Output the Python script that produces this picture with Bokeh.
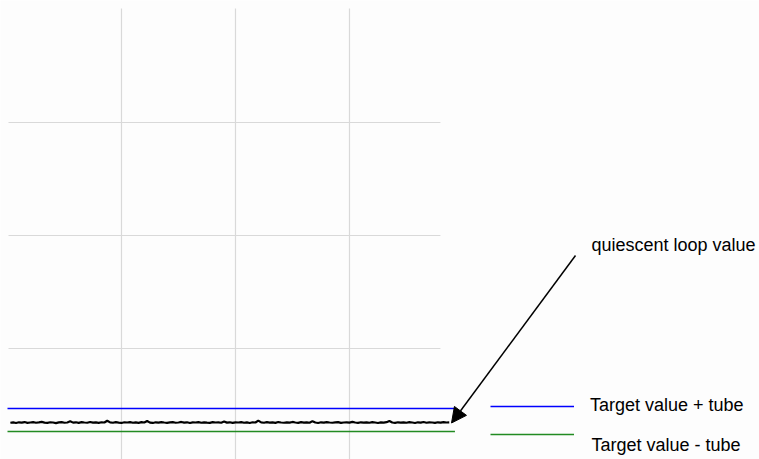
from bokeh.plotting import figure
from bokeh.models import Range1d, Arrow, NormalHead, Label, Legend, LegendItem
from bokeh.core.properties import value
from bokeh.embed import file_html
from bokeh.resources import INLINE

# ---- data -------------------------------------------------------------
loop_values = [
    0.343, 0.346, 0.341, 0.347, 0.344, 0.349, 0.342, 0.345, 0.348, 0.343,
    0.346, 0.351, 0.344, 0.342, 0.347, 0.345, 0.340, 0.346, 0.349, 0.343,
    0.345, 0.356, 0.344, 0.347, 0.342, 0.348, 0.345, 0.343, 0.350, 0.344,
    0.346, 0.342, 0.347, 0.345, 0.361, 0.346, 0.343, 0.348, 0.344, 0.341,
    0.347, 0.345, 0.349, 0.343, 0.346, 0.342, 0.348, 0.345, 0.358, 0.344,
    0.341, 0.347, 0.344, 0.349, 0.345, 0.342, 0.346, 0.348, 0.343, 0.345,
    0.350, 0.344, 0.347, 0.341, 0.346, 0.345, 0.349, 0.343, 0.347, 0.344,
    0.342, 0.348, 0.345, 0.346, 0.343, 0.354, 0.344, 0.347, 0.342, 0.346,
    0.345, 0.349, 0.343, 0.346, 0.341, 0.347, 0.345, 0.362, 0.346, 0.343,
    0.348, 0.344, 0.346, 0.342, 0.349, 0.345, 0.343, 0.347, 0.344, 0.350,
    0.345, 0.342, 0.348, 0.344, 0.346, 0.343, 0.357, 0.345, 0.341, 0.347,
    0.344, 0.349, 0.345, 0.343, 0.346, 0.348, 0.342, 0.345, 0.347, 0.344,
    0.351, 0.345, 0.342, 0.347, 0.344, 0.346, 0.343, 0.349, 0.345, 0.341,
    0.346, 0.344, 0.348, 0.359, 0.345, 0.342, 0.347, 0.344, 0.346, 0.343,
    0.348, 0.345, 0.341, 0.347, 0.344, 0.350, 0.343, 0.346, 0.345, 0.342,
    0.347, 0.344, 0.349, 0.345, 0.346,
]
samples = list(range(1, len(loop_values) + 1))

tube_x = [0, 157]
upper_tube = [0.469, 0.469]   # target value + tube
lower_tube = [0.2655, 0.2655] # target value - tube

x_grid_ticks = [40, 80, 120]
y_grid_ticks = [1, 2, 3]
x_grid_extent = (0.35, 151.9)   # horizontal grid lines run over this x span
y_grid_extent = (0.0, 4.009)    # vertical grid lines run over this y span

annot_text = "quiescent loop value"
annot_text_pos = (204.9, 1.92)
arrow_start = (199.3, 1.823)
arrow_end = (155.8, 0.341)

label_upper = "Target value + tube"
label_lower = "Target value - tube"
label_lower_pos = (204.9, 0.1487)

# ---- figure -----------------------------------------------------------
p = figure(width=759, height=459, output_backend="svg", toolbar_location=None,
           x_range=Range1d(-2.456, 263.86), y_range=Range1d(0.0177, 4.0796),
           x_axis_location=None, y_axis_location=None, min_border=0)
p.outline_line_color = None
p.background_fill_color = "#fdfdfd"
p.border_fill_color = "#fdfdfd"
p.xgrid.visible = False
p.ygrid.visible = False

grid_color = "#d9d9d9"
p.segment(x0=x_grid_ticks, y0=[y_grid_extent[0]] * len(x_grid_ticks),
          x1=x_grid_ticks, y1=[y_grid_extent[1]] * len(x_grid_ticks),
          line_color=grid_color, line_width=1.2)
p.segment(x0=[x_grid_extent[0]] * len(y_grid_ticks), y0=y_grid_ticks,
          x1=[x_grid_extent[1]] * len(y_grid_ticks), y1=y_grid_ticks,
          line_color=grid_color, line_width=1.2)

r_up = p.line(tube_x, upper_tube, line_color="#0000ff", line_width=1.5)
r_lo = p.line(tube_x, lower_tube, line_color="#228b22", line_width=1.5)
p.line(samples, loop_values, line_color="black", line_width=2.2)

p.add_layout(Arrow(end=NormalHead(size=15, fill_color="black", line_color="black"),
                   x_start=arrow_start[0], y_start=arrow_start[1],
                   x_end=arrow_end[0], y_end=arrow_end[1],
                   line_color="black", line_width=1.5))

p.add_layout(Label(x=annot_text_pos[0], y=annot_text_pos[1], text=annot_text,
                   text_font="Liberation Sans", text_font_size="18px",
                   text_color="black", text_align="left", text_baseline="middle"))
p.add_layout(Label(x=label_lower_pos[0], y=label_lower_pos[1], text=label_lower,
                   text_font="Liberation Sans", text_font_size="18px",
                   text_color="black", text_align="left", text_baseline="middle"))

common = dict(glyph_width=84, glyph_height=20, label_height=20, label_standoff=16,
              padding=0, margin=0, spacing=0,
              border_line_color=None, background_fill_alpha=0,
              label_text_font="Liberation Sans", label_text_font_size="18px",
              label_text_color="black")

leg1 = Legend(items=[LegendItem(label=value(label_upper), renderers=[r_up])],
              location=(490, 43), **common)
leg2 = Legend(items=[LegendItem(label=value(" "), renderers=[r_lo])],
              location=(490, 15.5), **common)
p.add_layout(leg1)
p.add_layout(leg2)

open("out.html", "w").write(file_html(p, INLINE))
